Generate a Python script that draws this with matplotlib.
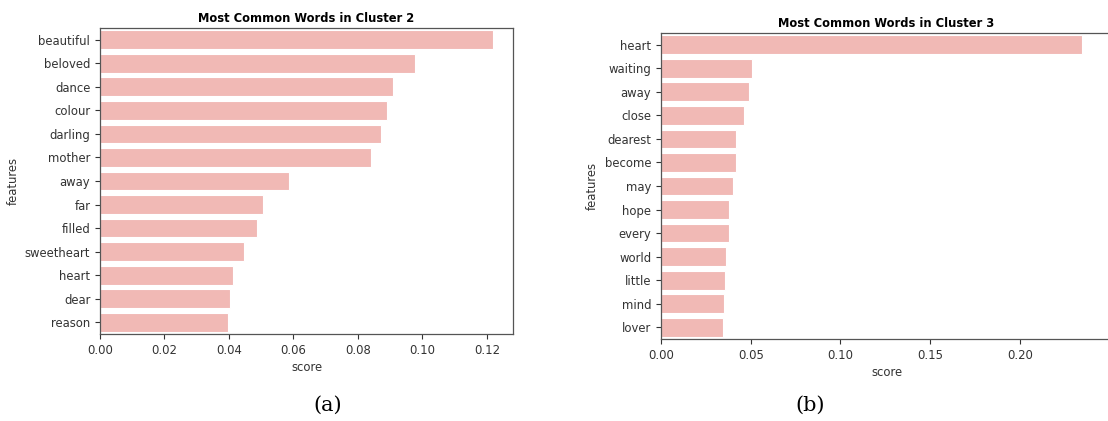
import matplotlib.pyplot as plt

# top words per cluster with their scores
words_c2 = ['beautiful', 'beloved', 'dance', 'colour', 'darling', 'mother', 'away',
            'far', 'filled', 'sweetheart', 'heart', 'dear', 'reason']
scores_c2 = [0.1220, 0.0978, 0.0910, 0.0891, 0.0871, 0.0840, 0.0587,
             0.0505, 0.0486, 0.0448, 0.0411, 0.0403, 0.0398]

words_c3 = ['heart', 'waiting', 'away', 'close', 'dearest', 'become', 'may',
            'hope', 'every', 'world', 'little', 'mind', 'lover']
scores_c3 = [0.2347, 0.0505, 0.0490, 0.0460, 0.0419, 0.0419, 0.0401,
             0.0377, 0.0377, 0.0364, 0.0358, 0.0349, 0.0345]

bar_color = '#f1b9b5'
text_color = '#333333'

fig = plt.figure(figsize=(11.08, 4.21), dpi=100)
W, H = 1108, 421


def add_panel(rect_px, words, scores, title, tick_step, pad, caption, cap_x):
    x0, y0, x1, y1 = rect_px
    ax = fig.add_axes([x0 / W, 1 - y1 / H, (x1 - x0) / W, (y1 - y0) / H])
    pos = range(len(words))
    ax.barh(pos, scores, height=0.8, color=bar_color, edgecolor='white', linewidth=0.8)
    ax.set_ylim(len(words) - 0.5, -0.5)
    ax.set_xlim(0, max(scores) * pad)
    ax.set_yticks(list(pos))
    ax.set_yticklabels(words)
    ticks = [i * tick_step for i in range(int(max(scores) / tick_step) + 1)]
    ax.set_xticks(ticks)
    ax.set_xticklabels([f'{t:.2f}' for t in ticks])
    ax.tick_params(labelsize=8.4, colors=text_color, length=3.5, width=0.8)
    for s in ax.spines.values():
        s.set_color('#555555')
        s.set_linewidth(0.9)
    ax.set_xlabel('score', fontsize=8.4, color=text_color, labelpad=3)
    ax.set_ylabel('features', fontsize=8.4, color=text_color)
    ax.set_title(title, fontsize=8.3, fontweight='bold', pad=4)
    fig.text(cap_x / W, 1 - 405 / H, caption, ha='center', va='center',
             fontsize=15, family='DejaVu Serif')
    return ax


add_panel((100, 28, 513, 334), words_c2, scores_c2,
          'Most Common Words in Cluster 2', 0.02, 1.05, '(a)', 328)
add_panel((661, 33, 1112, 339), words_c3, scores_c3,
          'Most Common Words in Cluster 3', 0.05, 1.071, '(b)', 810)

fig.savefig('out.png', dpi=100)
